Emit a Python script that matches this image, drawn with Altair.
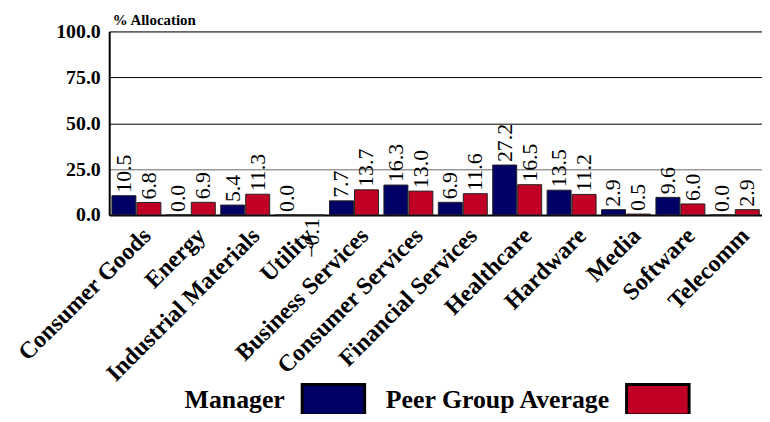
import altair as alt
import pandas as pd

categories = ["Consumer Goods", "Energy", "Industrial Materials", "Utility",
              "Business Services", "Consumer Services", "Financial Services",
              "Healthcare", "Hardware", "Media", "Software", "Telecomm"]
manager = [10.5, 0.0, 5.4, 0.0, 7.7, 16.3, 6.9, 27.2, 13.5, 2.9, 9.6, 0.0]
peer = [6.8, 6.9, 11.3, -0.1, 13.7, 13.0, 11.6, 16.5, 11.2, 0.5, 6.0, 2.9]
series_names = ["Manager", "Peer Group Average"]
series_colors = ["#000066", "#C00025"]
y_ticks = [0, 25, 50, 75, 100]

rows = []
for c, m, p in zip(categories, manager, peer):
    rows.append({"category": c, "series": series_names[0], "value": m})
    rows.append({"category": c, "series": series_names[1], "value": p})
df = pd.DataFrame(rows)

SERIF = "Liberation Serif"

x_enc = alt.X("category:N", sort=categories, title=None,
              scale=alt.Scale(paddingInner=0.1, paddingOuter=0.05),
              axis=alt.Axis(labelAngle=-45, labelAlign="right", labelBaseline="middle",
                            labelFont=SERIF, labelFontWeight="bold", labelFontSize=24,
                            labelColor="black", labelPadding=17, labelOffset=11,
                            labelLimit=400, labelOverlap=False, ticks=False,
                            domainColor="black", domainWidth=2, grid=False))
xoff = alt.XOffset("series:N", sort=series_names,
                   scale=alt.Scale(paddingInner=0.04))
y_enc = alt.Y("value:Q", scale=alt.Scale(domain=[0, 100], nice=False, clamp=False),
              title="% Allocation",
              axis=alt.Axis(values=y_ticks, format=".1f", labelFont=SERIF,
                            labelFontWeight="bold", labelFontSize=20, labelColor="black",
                            labelPadding=9, ticks=False, domainColor="black", domainWidth=2,
                            grid=True,
                            gridColor={"condition": {"test": "datum.value == 25", "value": "#666666"},
                                       "value": "black"},
                            gridWidth=1,
                            titleAngle=0, titleAlign="left", titleBaseline="alphabetic",
                            titleX=3, titleY=-7, titleFont=SERIF, titleFontSize=15,
                            titleFontWeight="bold", titleColor="black"))

base = alt.Chart(df)

bars = base.mark_bar(stroke="#222222", strokeWidth=1).encode(
    x=x_enc, xOffset=xoff, y=y_enc,
    color=alt.Color("series:N", sort=series_names,
                    scale=alt.Scale(domain=series_names, range=series_colors),
                    legend=alt.Legend(title=None, orient="none", direction="horizontal",
                                      legendX=193, legendY=338,
                                      symbolType="M-1,-0.49H1V0.49H-1Z", symbolSize=3969,
                                      symbolStrokeColor="black", symbolStrokeWidth=3,
                                      symbolOpacity=1,
                                      labelAlign="right", labelOffset={"expr": "-82"},
                                      labelFont=SERIF, labelFontWeight="bold",
                                      labelFontSize=26, labelColor="black",
                                      labelLimit=400, columnPadding=12)),
)

pos_labels = base.transform_filter("datum.value >= 0").mark_text(
    angle=270, align="left", baseline="middle", dx=3,
    font=SERIF, fontSize=22, color="black").encode(
    x=alt.X("category:N", sort=categories), xOffset=alt.XOffset("series:N", sort=series_names),
    y="value:Q", text=alt.Text("value:Q", format=".1f"))

neg_labels = base.transform_filter("datum.value < 0").mark_text(
    angle=270, align="right", baseline="middle", dx=-3,
    font=SERIF, fontSize=22, color="black").encode(
    x=alt.X("category:N", sort=categories), xOffset=alt.XOffset("series:N", sort=series_names),
    y="value:Q", text=alt.Text("value:Q", format=".1f"))

chart = alt.layer(bars, pos_labels, neg_labels).properties(
    width=658, height=185,
    padding={"left": 102, "top": 22, "right": 0, "bottom": 199},
    autosize=alt.AutoSizeParams(type="none"),
).configure_view(stroke="black", strokeWidth=1.5).configure(background="white")

chart.save("out.html", embed_options={"renderer": "svg", "actions": False})
